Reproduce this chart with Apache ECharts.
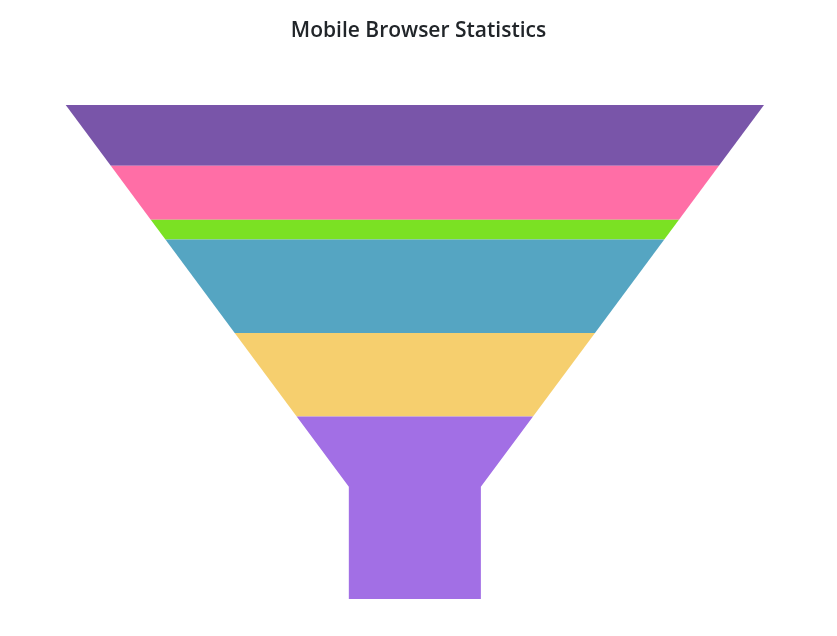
<!DOCTYPE html>
<html>
<head>
<meta charset="utf-8">
<title>Mobile Browser Statistics</title>
<script src="https://cdn.jsdelivr.net/npm/echarts@6/dist/echarts.min.js"></script>
<style>
  html, body { margin: 0; padding: 0; background: #fff; }
  #chart { width: 837px; height: 636px; }
</style>
</head>
<body>
<div id="chart"></div>
<script>
// funnel slices, top to bottom
var categories = ['Chrome', 'UC Browser', 'iPhone', 'Others', 'Opera', 'Nokia'];
var values = [12.3, 10.9, 4.0, 18.9, 16.9, 36.9];
var colors = ['#7955A9', '#FF6EA6', '#7BE123', '#55A5C2', '#F6CF6E', '#A26FE5'];

var total = values.reduce(function (a, b) { return a + b; }, 0);
var slices = [];
var acc = 0;
values.forEach(function (v, i) {
  slices.push({ name: categories[i], value: [acc, acc + v, i] });
  acc += v;
});

// funnel shape: half width in x-axis units, neck as share of the total height
var topHalf = 349, neckHalf = 66;
var neckStart = total * (1 - 0.227);

function halfWidth(y) {
  if (y >= neckStart) return neckHalf;
  return topHalf - (topHalf - neckHalf) * y / neckStart;
}

function renderSlice(params, api) {
  var y0 = api.value(0), y1 = api.value(1), idx = api.value(2);
  var left = [[-halfWidth(y0), y0]];
  if (y0 < neckStart && y1 > neckStart) left.push([-neckHalf, neckStart]);
  left.push([-halfWidth(y1), y1]);
  var right = left.map(function (p) { return [-p[0], p[1]]; }).reverse();
  var pts = left.concat(right).map(function (p) { return api.coord(p); });
  return {
    type: 'polygon',
    shape: { points: pts },
    style: { fill: colors[idx] }
  };
}

var myChart = echarts.init(document.getElementById('chart'));
var option = {
  animation: false,
  title: {
    text: 'Mobile Browser Statistics',
    left: 'center',
    top: 16,
    textStyle: { fontFamily: 'Open Sans', fontSize: 21, fontWeight: 600, color: '#212529' }
  },
  tooltip: { trigger: 'item', formatter: function (p) { return p.name + ': ' + values[p.value[2]] + '%'; } },
  grid: { left: 65.7, right: 73, top: 105, bottom: 37 },
  xAxis: { type: 'value', min: -topHalf, max: topHalf, show: false },
  yAxis: { type: 'value', min: 0, max: total, inverse: true, show: false },
  series: [{
    type: 'custom',
    renderItem: renderSlice,
    data: slices
  }]
};
myChart.setOption(option);
</script>
</body>
</html>
